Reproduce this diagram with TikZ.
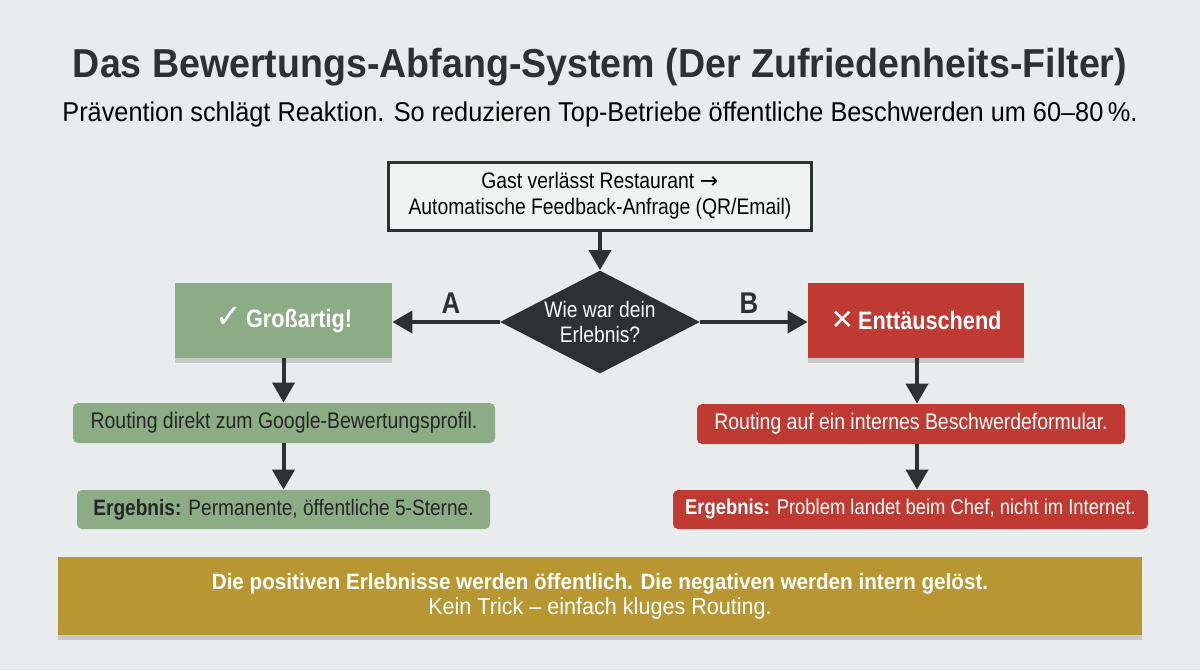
\documentclass[tikz,border=0pt]{standalone}
\usepackage{fontspec}
\setmainfont{Liberation Sans}[FakeStretch=0.86]
\newfontfamily\wfont{Liberation Sans}[FakeStretch=0.93]
\newfontfamily\symfont{DejaVu Sans}
\usetikzlibrary{shapes.geometric,arrows.meta,shadows}
\definecolor{bgc}{HTML}{E9ECEC}
\definecolor{ink}{HTML}{2C3232}
\definecolor{gfill}{HTML}{8BAC85}
\definecolor{rfill}{HTML}{BE3A33}
\definecolor{gold}{HTML}{B89733}
\definecolor{topfill}{HTML}{F1F3F3}
\tikzset{
  conn/.style={draw=ink, line width=2pt, -{Triangle[width=11pt,length=10pt]}},
  shad/.style={drop shadow={shadow xshift=0pt, shadow yshift=-2.5pt, opacity=0.15, fill=black}},
  bigbox/.style={rectangle, inner sep=0pt, font=\fontsize{12.6}{15}\selectfont\bfseries, text=white, shad},
  smallbox/.style={rectangle, rounded corners=2.5pt, inner sep=0pt, minimum height=20pt, font=\fontsize{11.3}{14}\selectfont},
  lbl/.style={font=\fontsize{15}{18}\selectfont\bfseries, text=ink},
}
\begin{document}
\begin{tikzpicture}[x=0.5pt, y=-0.5pt]
\fill[bgc] (0,0) rectangle (1200,670);
\useasboundingbox (0,0) rectangle (1200,670);

\node[font=\wfont\fontsize{20.2}{22}\selectfont\bfseries, text=ink] (title) at (600,67) {Das Bewertungs-Abfang-System (Der Zufriedenheits-Filter)};
\node[font=\wfont\fontsize{13.6}{15}\selectfont, text=black] (sub) at (600,114) {Prävention schlägt Reaktion. So reduzieren Top-Betriebe öffentliche Beschwerden um 60–80\,\%.};

\node[rectangle, draw=ink, line width=1.5pt, fill=topfill, minimum width=211.5pt, minimum height=34pt, inner sep=0pt, align=center, font=\fontsize{11.25}{13}\selectfont, text=black] (start) at (600,196) {Gast verlässt Restaurant {\symfont→}\\Automatische Feedback-Anfrage (QR/Email)};

\node[diamond, aspect=2, fill=ink, inner sep=0pt, minimum width=100pt, minimum height=51.5pt, align=center, text=white, font=\fontsize{11.2}{12.8}\selectfont] (dec) at (600,322) {Wie war dein\\Erlebnis?};

\node[bigbox, fill=gfill, minimum width=108.5pt, minimum height=37.5pt] (g1) at (283.5,320.5) {{\symfont\fontsize{16}{16}\selectfont ✓}\,Großartig!};
\node[bigbox, fill=rfill, minimum width=108pt, minimum height=37.5pt] (r1) at (916,320.5) {{\symfont\fontsize{14}{16}\selectfont ✕}\,Enttäuschend};

\node[smallbox, fill=gfill, minimum width=211pt, text=black!85] (g2) at (284,423) {Routing direkt zum Google-Bewertungsprofil.};
\node[smallbox, fill=gfill, minimum width=206.5pt, minimum height=19.5pt, text=black!85, font=\fontsize{11.1}{14}\selectfont] (g3) at (283.5,509.5) {\textbf{Ergebnis:} Permanente, öffentliche 5-Sterne.};

\node[smallbox, fill=rfill, minimum width=214pt, text=white] (r2) at (911,424) {Routing auf ein internes Beschwerdeformular.};
\node[smallbox, fill=rfill, minimum width=237.5pt, minimum height=19.5pt, text=white, font=\fontsize{10.7}{14}\selectfont] (r3) at (910.5,509.5) {\textbf{Ergebnis:} Problem landet beim Chef, nicht im Internet.};

\node[rectangle, fill=gold, minimum width=542pt, minimum height=39pt, inner sep=0pt, align=center, text=white, shad, font=\wfont] (ban) at (600,596) {{\fontsize{11.1}{13}\selectfont\bfseries Die positiven Erlebnisse werden öffentlich. Die negativen werden intern gelöst.}\\[0.5pt]{\fontsize{11.6}{13}\selectfont Kein Trick – einfach kluges Routing.}};

\node[lbl] (la) at (451,303) {A};
\node[lbl] (lb) at (749,303) {B};

\draw[conn] (start.south) -- (dec.north);
\draw[conn] (dec.west) -- (dec.west -| g1.east);
\draw[conn] (dec.east) -- (dec.east -| r1.west);
\draw[conn] (g1.south) -- (g1.south |- g2.north);
\draw[conn] (g1.south |- g2.south) -- (g1.south |- g3.north);
\draw[conn] ([xshift=0.5pt]r1.south) -- ([xshift=0.5pt]r1.south |- r2.north);
\draw[conn] ([xshift=0.5pt]r1.south |- r2.south) -- ([xshift=0.5pt]r1.south |- r3.north);
\end{tikzpicture}
\end{document}
